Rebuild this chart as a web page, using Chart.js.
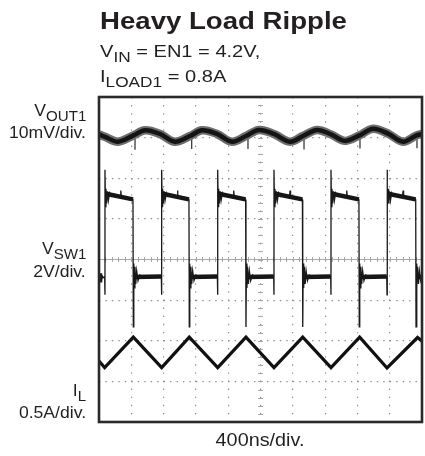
<!DOCTYPE html>
<html>
<head>
<meta charset="utf-8">
<script src="https://cdn.jsdelivr.net/npm/chart.js@4"></script>
<style>
  body { margin: 0; background: #fff; }
  #wrap { position: relative; width: 425px; height: 456px; font-family: "Liberation Sans", Arial, sans-serif; color: #231f20; }
  #scope { position: absolute; left: 0; top: 0; }
  .t { position: absolute; white-space: nowrap; }
  .title { left: 100px; top: 9.5px; font-size: 23px; line-height: 23px; font-weight: bold; transform: scaleX(1.2); transform-origin: left; }
  .sub { left: 100px; font-size: 17px; line-height: 17px; transform: scaleX(1.18); transform-origin: left; }
  .lab { right: 339px; font-size: 16px; line-height: 16px; text-align: right; transform: scaleX(1.1); transform-origin: right; }
  .xlab { left: 160px; width: 200px; top: 431px; font-size: 18px; line-height: 18px; text-align: center; transform: scaleX(1.1); }
  .s { position: relative; top: 0.34em; font-size: 0.86em; }
</style>
</head>
<body>
<div id="wrap">
  <canvas id="scope" width="425" height="456"></canvas>
  <div class="t title">Heavy Load Ripple</div>
  <div class="t sub" style="top:42.9px">V<span class="s">IN</span> = EN1 = 4.2V,</div>
  <div class="t sub" style="top:68.1px">I<span class="s">LOAD1</span> = 0.8A</div>
  <div class="t lab" style="top:103px">V<span class="s">OUT1</span></div>
  <div class="t lab" style="top:124.7px">10mV/div.</div>
  <div class="t lab" style="top:241.4px">V<span class="s">SW1</span></div>
  <div class="t lab" style="top:264.1px">2V/div.</div>
  <div class="t lab" style="top:383.1px">I<span class="s">L</span></div>
  <div class="t lab" style="top:405.4px">0.5A/div.</div>
  <div class="t xlab">400ns/div.</div>
</div>
<script>
let scope_canvas = document.getElementById( "scope" );

// ---------------------------- Screen (10 x 8 divisions, 400ns/div) ---------------------------- //
const time_span = [ 0, 4000 ];
const div_span = [ 0, 8 ];
const time_per_div = 400;

// ---------------------------- Traces (ns, divisions) ---------------------------- //

// V_SW1, 2V/div. - edges and ringing
const vsw_time = [
    0, 5, 10, 15, 20, 25, 30, 35, 40, 52, 70,
    74, 74, 80, 86, 94, 104, 116, 132, 154, 200, 264, 270, 276, 350, 421,
    425, 431, 437, 445, 455, 467, 483, 505, 555, 650, 772,
    776, 776, 782, 788, 796, 806, 818, 834, 856, 902, 966, 972, 978, 1050, 1114,
    1118, 1124, 1130, 1138, 1148, 1160, 1176, 1198, 1248, 1350, 1466,
    1470, 1470, 1476, 1482, 1490, 1500, 1512, 1528, 1550, 1596, 1662, 1668, 1674, 1750, 1816,
    1820, 1826, 1832, 1840, 1850, 1862, 1878, 1900, 1950, 2050, 2163,
    2167, 2167, 2173, 2179, 2187, 2197, 2209, 2225, 2247, 2293, 2360, 2366, 2372, 2450, 2519,
    2523, 2529, 2535, 2543, 2553, 2565, 2581, 2603, 2653, 2750, 2869,
    2873, 2873, 2879, 2885, 2893, 2903, 2915, 2931, 2953, 2999, 3062, 3068, 3074, 3150, 3219,
    3223, 3229, 3235, 3243, 3253, 3265, 3281, 3303, 3353, 3450, 3563,
    3567, 3567, 3573, 3579, 3587, 3597, 3609, 3625, 3647, 3693, 3760, 3766, 3772, 3850, 3922,
    3926, 3932, 3938, 3946, 3956, 3968, 3984, 4000
];
const vsw_level = [
    3.66, 3.45, 3.66, 3.45, 3.66, 3.45, 3.66, 3.46, 3.60, 3.55, 3.58,
    3.13, 6.21, 5.30, 5.74, 5.38, 5.68, 5.45, 5.64, 5.55, 5.58, 5.57, 5.70, 5.56, 5.52, 5.47,
    2.34, 3.90, 3.30, 3.82, 3.40, 3.72, 3.48, 3.62, 3.56, 3.58, 3.58,
    3.13, 6.21, 5.30, 5.74, 5.38, 5.68, 5.45, 5.64, 5.55, 5.58, 5.57, 5.70, 5.56, 5.52, 5.47,
    2.34, 3.90, 3.30, 3.82, 3.40, 3.72, 3.48, 3.62, 3.56, 3.58, 3.58,
    3.13, 6.21, 5.30, 5.74, 5.38, 5.68, 5.45, 5.64, 5.55, 5.58, 5.57, 5.70, 5.56, 5.52, 5.47,
    2.34, 3.90, 3.30, 3.82, 3.40, 3.72, 3.48, 3.62, 3.56, 3.58, 3.58,
    3.13, 6.21, 5.30, 5.74, 5.38, 5.68, 5.45, 5.64, 5.55, 5.58, 5.57, 5.70, 5.56, 5.52, 5.47,
    2.34, 3.90, 3.30, 3.82, 3.40, 3.72, 3.48, 3.62, 3.56, 3.58, 3.58,
    3.13, 6.21, 5.30, 5.74, 5.38, 5.68, 5.45, 5.64, 5.55, 5.58, 5.57, 5.70, 5.56, 5.52, 5.47,
    2.34, 3.90, 3.30, 3.82, 3.40, 3.72, 3.48, 3.62, 3.56, 3.58, 3.58,
    3.13, 6.21, 5.30, 5.74, 5.38, 5.68, 5.45, 5.64, 5.55, 5.58, 5.57, 5.70, 5.56, 5.52, 5.47,
    2.34, 3.90, 3.30, 3.82, 3.40, 3.72, 3.48, 3.60
];

// V_SW1 noise band on the flat parts (start, end, level at start, level at end)
const vsw_band_start = [ 86, 788, 1482, 2179, 2885, 3579, 437, 1130, 1832, 2535, 3235, 3938 ];
const vsw_band_end = [ 421, 1114, 1816, 2519, 3219, 3922, 772, 1466, 2163, 2869, 3563, 4000 ];
const vsw_band_from = [ 5.62, 5.62, 5.62, 5.62, 5.62, 5.62, 3.57, 3.57, 3.57, 3.57, 3.57, 3.57 ];
const vsw_band_to = [ 5.48, 5.48, 5.48, 5.48, 5.48, 5.48, 3.58, 3.58, 3.58, 3.58, 3.58, 3.57 ];

// I_L, 0.5A/div.
const il_time = [ 0, 70, 425, 776, 1118, 1470, 1820, 2167, 2523, 2873, 3228, 3567, 3945, 4000 ];
const il_level = [ 1.50, 1.34, 2.09, 1.34, 2.09, 1.34, 2.09, 1.34, 2.09, 1.34, 2.09, 1.33, 2.08, 1.99 ];

// V_OUT1, 10mV/div. (ripple, noise band drawn wide)
const vout_time = [ 0, 74, 235, 421, 570, 755, 941, 1127, 1276, 1461, 1647, 1820, 1981, 2167,
    2365, 2526, 2700, 2873, 3046, 3220, 3393, 3579, 3765, 3926, 4000 ];
const vout_level = [ 7.08, 7.02, 6.90, 7.05, 7.18, 7.09, 6.90, 7.04, 7.18, 7.09, 6.90, 7.04, 7.19, 7.09,
    6.90, 7.04, 7.19, 7.08, 6.92, 7.05, 7.22, 7.10, 6.90, 7.05, 7.09 ];

// switching spikes on V_OUT1
const vout_spike_time = [ 446, 1148, 1845, 2539, 3232, 3938 ];
const vout_spike_top = [ 7.10, 7.10, 7.11, 7.11, 7.13, 7.12 ];
const vout_spike_low = [ 6.70, 6.72, 6.72, 6.71, 6.73, 6.74 ];

// ---------------------------- Build points ---------------------------- //
const to_points = ( xs, ys ) => xs.map( ( x, i ) => ( { x: x, y: ys[ i ] } ) );

let spike_points = [];
vout_spike_time.forEach( ( t, i ) =>
{
    spike_points.push( { x: t, y: vout_spike_top[ i ] }, { x: t, y: vout_spike_low[ i ] }, { x: t, y: null } );
} );

let band_points = [];
vsw_band_start.forEach( ( t, i ) =>
{
    band_points.push( { x: t, y: vsw_band_from[ i ] }, { x: vsw_band_end[ i ], y: vsw_band_to[ i ] },
        { x: vsw_band_end[ i ], y: null } );
} );

const trace = ( points, width, colour, tension ) => (
{
    data: points,
    borderColor: colour,
    borderWidth: width,
    pointRadius: 0,
    tension: tension || 0,
    borderJoinStyle: 'miter',
    spanGaps: false,
    fill: false
} );

// first dataset is painted last, so the dark core of V_OUT1 comes first
const scope_data = {
    datasets: [
        trace( to_points( vout_time, vout_level ), 4.5, '#141414', 0.35 ),
        trace( to_points( vout_time, vout_level ), 8.5, '#6e6e6e', 0.35 ),
        trace( spike_points, 1.2, '#2a2a2a' ),
        trace( band_points, 4.5, '#161616' ),
        trace( to_points( vsw_time, vsw_level ), 1.3, '#1a1a1a' ),
        trace( to_points( il_time, il_level ), 3.2, '#111' )
    ]
};

// ---------------------------- Scope graticule ---------------------------- //
const graticule = {
    id: 'graticule',
    beforeDatasetsDraw( chart )
    {
        const { ctx, chartArea: a } = chart;
        const xs = chart.scales.x, ys = chart.scales.y;
        const cx = xs.getPixelForValue( ( time_span[ 0 ] + time_span[ 1 ] ) / 2 );
        const cy = ys.getPixelForValue( ( div_span[ 0 ] + div_span[ 1 ] ) / 2 );
        ctx.save();
        ctx.strokeStyle = '#a8a8a8';
        ctx.lineWidth = 1;
        ctx.beginPath();
        ctx.moveTo( a.left, cy );
        ctx.lineTo( a.right, cy );
        // minor ticks, 5 per division on the centre lines
        for ( let t = time_span[ 0 ]; t <= time_span[ 1 ]; t += time_per_div / 5 )
        {
            const px = Math.round( xs.getPixelForValue( t ) ) + 0.5;
            ctx.moveTo( px, cy - 2.5 );
            ctx.lineTo( px, cy + 2.5 );
        }
        for ( let k = 0; k <= 40; k++ )
        {
            const py = Math.round( ys.getPixelForValue( k / 5 ) ) + 0.5;
            ctx.moveTo( cx - 2.5, py );
            ctx.lineTo( cx + 2.5, py );
        }
        ctx.stroke();
        ctx.restore();
    },
    afterDatasetsDraw( chart )
    {
        const { ctx, chartArea: a } = chart;
        ctx.save();
        ctx.strokeStyle = '#2a2a2a';
        ctx.lineWidth = 2.6;
        ctx.strokeRect( a.left, a.top, a.right - a.left, a.bottom - a.top );
        ctx.restore();
    }
};

const scope_options = {
    responsive: false,
    animation: false,
    events: [],
    layout: { padding: { left: 99, top: 97, right: 3, bottom: 34 } },
    plugins: {
        legend: { display: false },
        tooltip: { enabled: false }
    },
    scales: {
        x: {
            type: 'linear',
            min: time_span[ 0 ],
            max: time_span[ 1 ],
            ticks: { display: false, stepSize: time_per_div },
            grid: { color: '#8f8f8f', lineWidth: 1.2, drawTicks: false },
            border: { display: false, dash: [ 1.4, 6.7 ] }
        },
        y: {
            type: 'linear',
            min: div_span[ 0 ],
            max: div_span[ 1 ],
            ticks: { display: false, stepSize: 1 },
            grid: { color: '#8f8f8f', lineWidth: 1.2, drawTicks: false },
            border: { display: false, dash: [ 1.4, 5.06 ] }
        }
    }
};

// ---------------------------- Create chart ---------------------------- //
let scope_chart = new Chart( scope_canvas,
{
    type: 'line',
    data: scope_data,
    options: scope_options,
    plugins: [ graticule ]
} );
</script>
</body>
</html>
